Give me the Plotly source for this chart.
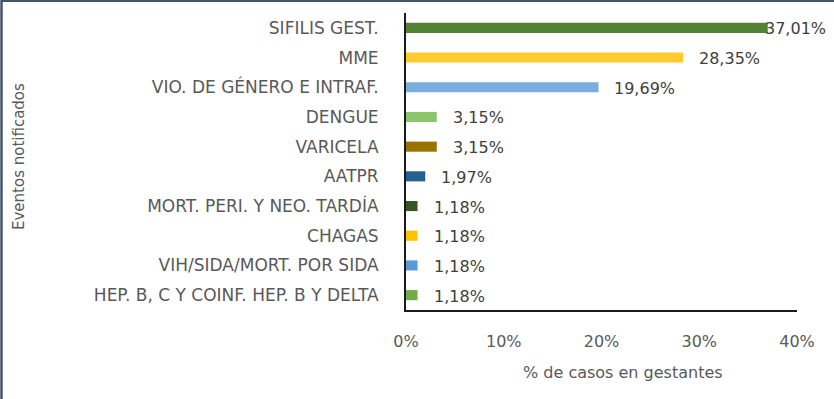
import plotly.graph_objects as go

# Eventos notificados en gestantes (% de casos)
eventos = [
    "SIFILIS GEST.",
    "MME",
    "VIO. DE GÉNERO E INTRAF.",
    "DENGUE",
    "VARICELA",
    "AATPR",
    "MORT. PERI. Y NEO. TARDÍA",
    "CHAGAS",
    "VIH/SIDA/MORT. POR SIDA",
    "HEP. B, C Y COINF. HEP. B Y DELTA",
]
porcentajes = [37.01, 28.35, 19.69, 3.15, 3.15, 1.97, 1.18, 1.18, 1.18, 1.18]
colores = [
    "#548235", "#FFCB2E", "#79ADDD", "#8CC66B", "#997300",
    "#255E91", "#375623", "#FFC000", "#5B9BD5", "#70AD47",
]
x_ticks = [0, 10, 20, 30, 40]
x_ticklabels = ["0%", "10%", "20%", "30%", "40%"]

W, H = 834, 399
L, R, T, B = 406, 37, 13, 89
pw, ph = W - L - R, H - T - B

label_font = "DejaVu Sans"
gray = "#595959"

fig = go.Figure(
    go.Bar(
        x=porcentajes,
        y=eventos,
        orientation="h",
        marker=dict(color=colores, line=dict(width=0)),
        width=0.34,
        hoverinfo="skip",
    )
)

# value labels beside each bar; the widest bar keeps its label inside the frame
annotations = []
for ev, val in zip(eventos, porcentajes):
    text = f"{val:.2f}%".replace(".", ",")
    if val > 35:
        annotations.append(dict(
            x=1.0, xref="paper", y=ev, yref="y", text=text, showarrow=False,
            xanchor="right", xshift=31, yshift=-1,
            font=dict(family=label_font, size=16, color="#404040"),
        ))
    else:
        annotations.append(dict(
            x=val, xref="x", y=ev, yref="y", text=text, showarrow=False,
            xanchor="left", xshift=14, yshift=-1,
            font=dict(family=label_font, size=16, color="#404040"),
        ))

# axis titles
annotations.append(dict(
    x=(623 - L) / pw, xref="paper", y=(H - B - 372) / ph, yref="paper",
    text="% de casos en gestantes", showarrow=False,
    xanchor="center", yanchor="middle",
    font=dict(family=label_font, size=16, color=gray),
))
annotations.append(dict(
    x=(19 - L) / pw, xref="paper", y=(H - B - 157) / ph, yref="paper",
    text="Eventos notificados", showarrow=False, textangle=-90,
    xanchor="center", yanchor="middle",
    font=dict(family=label_font, size=15, color=gray),
))

# frame lines on the top and left edges
shapes = [
    dict(type="line", xref="paper", yref="paper",
         x0=(1 - L) / pw, x1=(W - L) / pw, y0=(H - B - 1) / ph, y1=(H - B - 1) / ph,
         line=dict(color="#44546A", width=2)),
    dict(type="line", xref="paper", yref="paper",
         x0=(1.5 - L) / pw, x1=(1.5 - L) / pw, y0=(H - B - 0) / ph, y1=(H - B - H) / ph,
         line=dict(color="#44546A", width=2.5)),
]

fig.update_layout(
    width=W, height=H,
    margin=dict(l=L, r=R, t=T, b=B, pad=0),
    paper_bgcolor="white", plot_bgcolor="white",
    showlegend=False,
    annotations=annotations,
    shapes=shapes,
    xaxis=dict(
        range=[0, 40], tickvals=x_ticks, ticktext=x_ticklabels,
        showgrid=False, zeroline=False,
        showline=True, linecolor="#1a1a1a", linewidth=1.5,
        ticks="", ticklabelstandoff=16,
        tickfont=dict(family=label_font, size=16, color=gray),
        fixedrange=True,
    ),
    yaxis=dict(
        autorange="reversed",
        showgrid=False, zeroline=False,
        showline=True, linecolor="#1a1a1a", linewidth=2,
        ticks="", ticklabelstandoff=22,
        tickfont=dict(family=label_font, size=17, color=gray),
        fixedrange=True,
    ),
)

fig.write_html("out.html")
